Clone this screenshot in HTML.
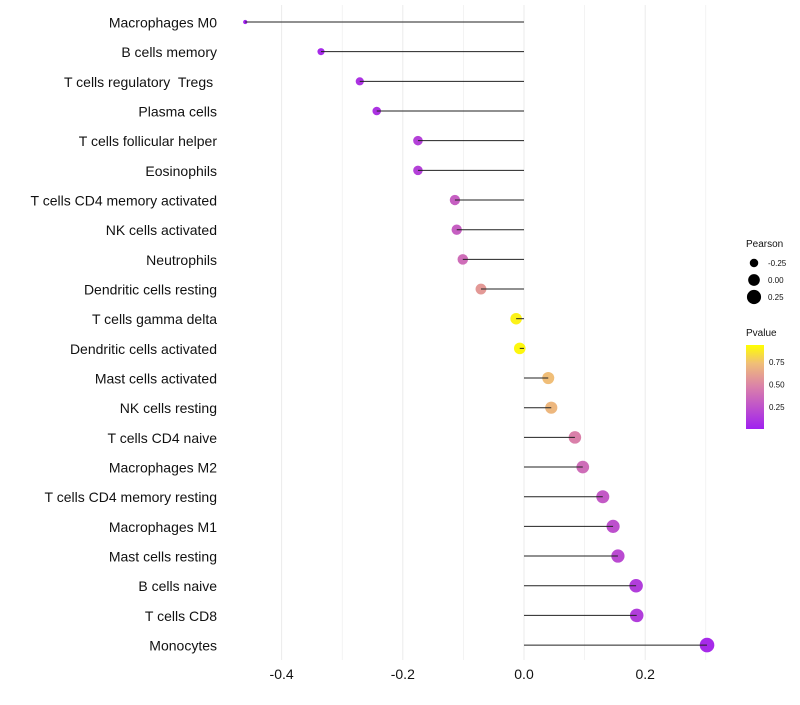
<!DOCTYPE html>
<html><head><meta charset="utf-8"><style>
body{margin:0;background:#fff;font-family:"Liberation Sans",sans-serif;}
text{white-space:pre;}
</style></head><body>
<svg id="chart" width="800" height="700" xmlns="http://www.w3.org/2000/svg">
<g id="grid"></g><g id="marks"></g><g id="labels"></g><g id="legend"></g>
</svg>
<script>
const categories=["Macrophages M0","B cells memory","T cells regulatory  Tregs ","Plasma cells","T cells follicular helper","Eosinophils","T cells CD4 memory activated","NK cells activated","Neutrophils","Dendritic cells resting","T cells gamma delta","Dendritic cells activated","Mast cells activated","NK cells resting","T cells CD4 naive","Macrophages M2","T cells CD4 memory resting","Macrophages M1","Mast cells resting","B cells naive","T cells CD8","Monocytes"];
const pearson=[-0.460,-0.335,-0.271,-0.243,-0.175,-0.175,-0.114,-0.111,-0.101,-0.071,-0.013,-0.007,0.040,0.045,0.084,0.097,0.130,0.147,0.155,0.185,0.186,0.302];
const pvalue=[0.01,0.05,0.1,0.1,0.17,0.17,0.33,0.33,0.4,0.6,0.95,0.97,0.75,0.72,0.5,0.4,0.3,0.25,0.22,0.15,0.15,0.05];
const xTicks=[-0.4,-0.2,0.0,0.2];
const sizeLegend=[-0.25,0.00,0.25];
const pLegend=[0.75,0.50,0.25];
const NS="http://www.w3.org/2000/svg";
const x=v=>524+v*606;
const y=i=>22+i*29.67;
const r=v=>Math.sqrt(Math.max(2.5,34+64*v));
function col(p){
  const stops=[[0,[160,32,240]],[0.5,[218,128,170]],[0.75,[240,190,120]],[1,[255,255,0]]];
  for(let k=1;k<stops.length;k++){if(p<=stops[k][0]){const a=stops[k-1],b=stops[k];const t=(p-a[0])/(b[0]-a[0]);const c=a[1].map((u,j)=>Math.round(u+(b[1][j]-u)*t));return `rgb(${c})`;}}
  return "rgb(255,255,0)";
}
function mk(tag,at,parent,txt){const e=document.createElementNS(NS,tag);for(const k in at)e.setAttribute(k,at[k]);if(txt!==undefined)e.textContent=txt;document.getElementById(parent).appendChild(e);return e;}
[-0.4,-0.3,-0.2,-0.1,0,0.1,0.2,0.3].forEach(v=>{
  const l=mk("line",{x1:x(v),x2:x(v),y1:5,y2:660,stroke:"#ebebeb","stroke-width":Math.abs(v*10)%2<0.01?1:0.6},"grid");
  
  
});
xTicks.forEach(v=>{
  const t=mk("text",{x:x(v),y:679,"text-anchor":"middle","font-size":14,fill:"#111"},"labels",v.toFixed(1));
  
  
});
categories.forEach((c,i)=>{
  const t=mk("text",{x:217,y:y(i)+5.5,"text-anchor":"end","font-size":14,fill:"#111"},"labels",c);
  
  
  const d=mk("circle",{cx:x(pearson[i]),cy:y(i),r:r(pearson[i]),fill:col(pvalue[i])},"marks");
  
  
  const l=mk("line",{x1:x(0),x2:x(pearson[i]),y1:y(i),y2:y(i),stroke:"#222","stroke-width":1},"marks");
  
  
});
let t=mk("text",{x:746,y:247,"font-size":10,fill:"#111"},"legend","Pearson");


sizeLegend.forEach((v,k)=>{
  const cy=263+k*17;
  const c=mk("circle",{cx:754,cy:cy,r:r(v),fill:"#000"},"legend");
  
  
  const tt=mk("text",{x:768,y:cy+3,"font-size":8,fill:"#111"},"legend",v.toFixed(2));
  
  
});
t=mk("text",{x:746,y:336,"font-size":10,fill:"#111"},"legend","Pvalue");


const defs=document.createElementNS(NS,"defs");
defs.innerHTML='<linearGradient id="pg" x1="0" y1="1" x2="0" y2="0"><stop offset="0" stop-color="rgb(160,32,240)"/><stop offset="0.5" stop-color="rgb(218,128,170)"/><stop offset="0.78" stop-color="rgb(240,190,120)"/><stop offset="1" stop-color="rgb(255,255,0)"/></linearGradient>';
document.getElementById("chart").appendChild(defs);
const bar=mk("rect",{x:746,y:345,width:18,height:84,fill:"url(#pg)"},"legend");


pLegend.forEach(v=>{
  const yy=428-(v-0.017)/(0.94-0.017)*83;
  const tt=mk("text",{x:769,y:yy+3,"font-size":8,fill:"#111"},"legend",v.toFixed(2));
  
  
});
</script>
</body></html>
